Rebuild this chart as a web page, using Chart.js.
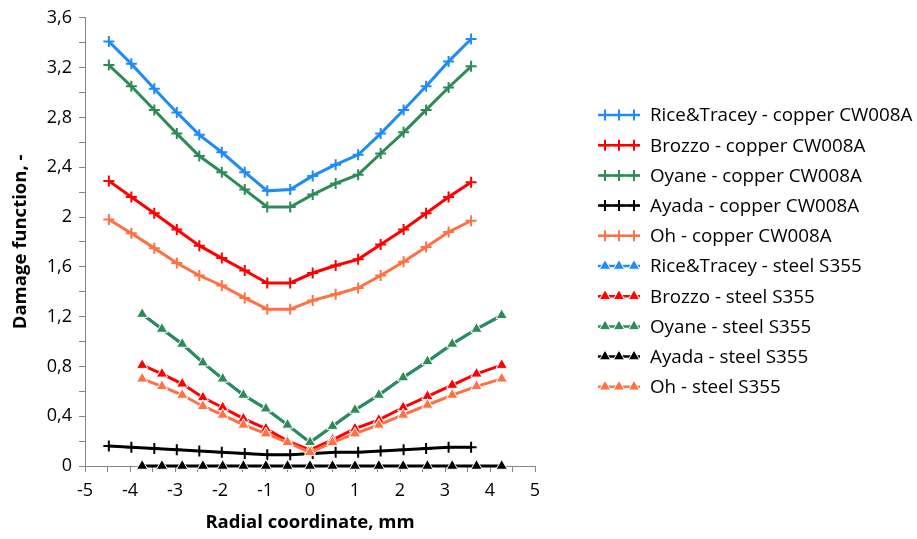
<!DOCTYPE html>
<html><head><meta charset="utf-8">
<script src="https://cdn.jsdelivr.net/npm/chart.js@4.4.0/dist/chart.umd.min.js"></script>
<style>html,body{margin:0;padding:0;background:#fff;overflow:hidden}#wrap{width:917px;height:539px;position:relative}</style>
</head><body><div id="wrap"><canvas id="c" width="917" height="539"></canvas></div>
<script>
// ---- data ----
const copperX = [-4.47,-3.97,-3.46,-2.96,-2.46,-1.96,-1.45,-0.95,-0.44,0.06,0.57,1.07,1.57,2.08,2.58,3.08,3.58];
const steelX  = [-3.73,-3.29,-2.84,-2.38,-1.94,-1.48,-0.98,-0.50,0.00,0.50,1.00,1.53,2.07,2.61,3.16,3.70,4.26];

const riceCopper   = [3.41,3.23,3.03,2.84,2.66,2.52,2.36,2.21,2.22,2.33,2.42,2.50,2.67,2.86,3.05,3.25,3.43];
const brozzoCopper = [2.29,2.16,2.03,1.90,1.77,1.67,1.57,1.47,1.47,1.55,1.61,1.66,1.78,1.90,2.03,2.16,2.28];
const oyaneCopper  = [3.22,3.05,2.86,2.67,2.49,2.36,2.22,2.08,2.08,2.18,2.27,2.34,2.51,2.68,2.86,3.04,3.21];
const ayadaCopper  = [0.16,0.15,0.14,0.13,0.12,0.11,0.10,0.09,0.09,0.10,0.11,0.11,0.12,0.13,0.14,0.15,0.15];
const ohCopper     = [1.98,1.87,1.75,1.63,1.53,1.45,1.35,1.26,1.26,1.33,1.38,1.43,1.53,1.64,1.76,1.88,1.97];

const riceSteel    = [1.22,1.10,0.98,0.83,0.70,0.57,0.46,0.33,0.19,0.32,0.45,0.57,0.71,0.84,0.98,1.10,1.21];
const brozzoSteel  = [0.81,0.74,0.66,0.55,0.47,0.38,0.30,0.20,0.13,0.21,0.30,0.37,0.47,0.56,0.65,0.74,0.81];
const oyaneSteel   = [1.22,1.10,0.98,0.83,0.70,0.57,0.46,0.33,0.19,0.32,0.45,0.57,0.71,0.84,0.98,1.10,1.21];
const ayadaSteel   = [0,0,0,0,0,0,0,0,0,0,0,0,0,0,0,0,0];
const ohSteel      = [0.70,0.64,0.57,0.48,0.41,0.33,0.26,0.19,0.11,0.19,0.26,0.33,0.41,0.49,0.57,0.64,0.70];

const seriesNames = [
  'Rice&Tracey - copper CW008A','Brozzo - copper CW008A','Oyane - copper CW008A','Ayada - copper CW008A','Oh - copper CW008A',
  'Rice&Tracey - steel S355','Brozzo - steel S355','Oyane - steel S355','Ayada - steel S355','Oh - steel S355'
];
const seriesValues = [riceCopper, brozzoCopper, oyaneCopper, ayadaCopper, ohCopper,
                      riceSteel, brozzoSteel, oyaneSteel, ayadaSteel, ohSteel];
const seriesColors = ['#1E8CF5','#FF0000','#2E8B57','#000000','#FF7043',
                      '#1E8CF5','#FF0000','#2E8B57','#000000','#FF7043'];

const xTitle = 'Radial coordinate, mm';
const yTitle = 'Damage function, -';
const FONT = "'Open Sans', sans-serif";

function fmt(v){
  const r = Math.round(v*10)/10;
  return Number.isInteger(r) ? String(r) : r.toFixed(1).replace('.', ',');
}

const datasets = seriesValues.map((vals, i) => {
  const steel = i >= 5;
  const xs = steel ? steelX : copperX;
  const c = seriesColors[i];
  return {
    label: seriesNames[i],
    data: xs.map((x, k) => ({x: x, y: vals[k]})),
    borderColor: c,
    backgroundColor: c,
    borderWidth: 3,
    pointStyle: steel ? 'triangle' : 'cross',
    pointRadius: steel ? 6.5 : 5.5,
    pointBorderWidth: steel ? 1 : 2,
    pointBorderColor: steel ? '#ffffff' : c,
    pointBackgroundColor: c,
    tension: 0,
    clip: false,
    order: 20 - i
  };
});

const legendPlugin = {
  id: 'customLegend',
  afterDraw(chart) {
    const ctx = chart.ctx;
    ctx.save();
    seriesNames.forEach((name, i) => {
      const y = 115 + i * 30.2;
      const c = seriesColors[i];
      const steel = i >= 5;
      ctx.strokeStyle = c;
      ctx.lineWidth = 2.5;
      ctx.setLineDash([]);
      ctx.beginPath(); ctx.moveTo(598, y); ctx.lineTo(640, y); ctx.stroke();
      [605, 619, 634].forEach(mx => {
        if (steel) {
          const r = 6.5;
          ctx.fillStyle = c; ctx.strokeStyle = '#fff'; ctx.lineWidth = 1;
          ctx.beginPath();
          ctx.moveTo(mx, y - r);
          ctx.lineTo(mx + r * 0.866, y + r / 2);
          ctx.lineTo(mx - r * 0.866, y + r / 2);
          ctx.closePath(); ctx.fill(); ctx.stroke();
        } else {
          const r = 5.5;
          ctx.strokeStyle = c; ctx.lineWidth = 2;
          ctx.beginPath();
          ctx.moveTo(mx - r, y); ctx.lineTo(mx + r, y);
          ctx.moveTo(mx, y - r); ctx.lineTo(mx, y + r);
          ctx.stroke();
        }
      });
      ctx.fillStyle = '#000';
      ctx.font = "18.8px " + FONT;
      ctx.textBaseline = 'middle';
      ctx.textAlign = 'left';
      ctx.fillText(name, 650, y + 1);
    });
    ctx.restore();
  }
};

new Chart(document.getElementById('c'), {
  type: 'line',
  data: { datasets },
  options: {
    responsive: false,
    animation: false,
    layout: { padding: { left: 0, right: 382, top: 16, bottom: 0 } },
    plugins: { legend: { display: false }, tooltip: { enabled: false } },
    scales: {
      x: {
        type: 'linear', min: -5, max: 5,
        afterFit(s) { s.height = 73; },
        ticks: { stepSize: 0.5, autoSkip: false, maxRotation: 0, padding: 8, color: '#000',
                 font: { family: FONT, size: 18 },
                 callback: v => Number.isInteger(v) ? String(v) : '' },
        grid: { drawOnChartArea: false, drawTicks: true, tickLength: 6, color: '#868686' },
        border: { color: '#868686', width: 1 },
        title: { display: true, text: xTitle, color: '#000', font: { family: FONT, size: 18.5, weight: 'bold' },
                 padding: { top: 4, bottom: 5 } }
      },
      y: {
        type: 'linear', min: 0, max: 3.6,
        afterFit(s) { s.width = 85; },
        ticks: { stepSize: 0.2, autoSkip: false, padding: 7, color: '#000',
                 font: { family: FONT, size: 18 },
                 callback: v => (Math.round(v * 10) % 4 === 0) ? fmt(v) : '' },
        grid: { drawOnChartArea: false, drawTicks: true, tickLength: 6, color: '#868686' },
        border: { color: '#868686', width: 1 },
        title: { display: true, text: yTitle, color: '#000', font: { family: FONT, size: 18.5, weight: 'bold' },
                 padding: { top: 10, bottom: 4 } }
      }
    }
  },
  plugins: [legendPlugin]
});
</script>
</body></html>
